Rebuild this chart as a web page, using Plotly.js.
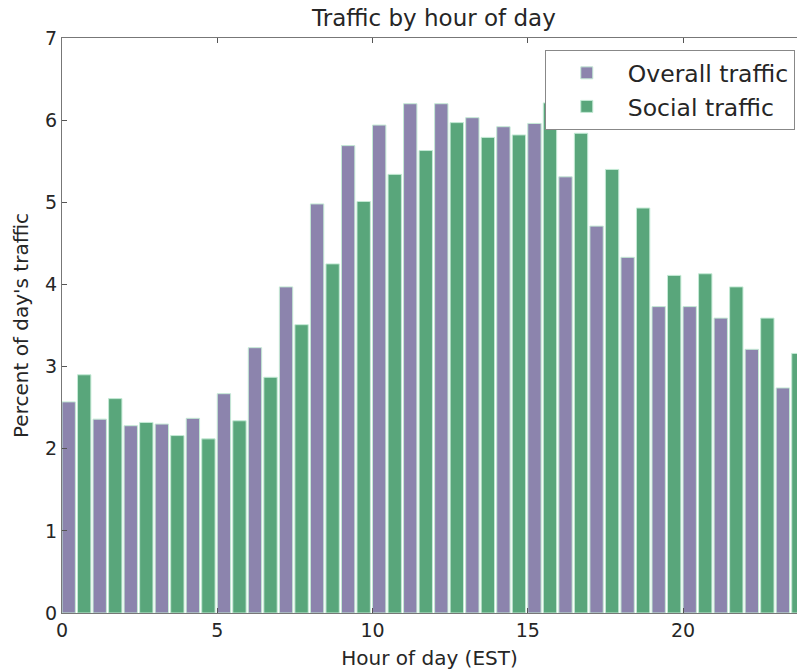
<!DOCTYPE html>
<html>
<head>
<meta charset="utf-8">
<script src="https://cdn.plot.ly/plotly-3.0.1.min.js"></script>
<style>html,body{margin:0;padding:0;background:#fff;overflow:hidden;}</style>
</head>
<body>
<div id="chart" style="width:797px;height:672px;"></div>
<script>
const hours = [0,1,2,3,4,5,6,7,8,9,10,11,12,13,14,15,16,17,18,19,20,21,22,23];
const overallTraffic = [2.57,2.36,2.28,2.30,2.37,2.67,3.23,3.97,4.98,5.69,5.94,6.20,6.20,6.03,5.92,5.96,5.31,4.71,4.33,3.73,3.73,3.59,3.21,2.74];
const socialTraffic = [2.90,2.61,2.32,2.16,2.12,2.34,2.87,3.51,4.25,5.01,5.34,5.63,5.97,5.79,5.82,6.21,5.84,5.40,4.93,4.11,4.13,3.97,3.59,3.16];
const xTicks = [0,5,10,15,20];
const yTicks = [0,1,2,3,4,5,6,7];

const font = "DejaVu Sans, sans-serif";
const edge = {color: '#c4ead5', width: 1};

const traces = [
  {type:'bar', name:'Overall traffic', x:hours, y:overallTraffic, width:0.43, offset:0,
   marker:{color:'#8c84ad', line:edge}},
  {type:'bar', name:'Social traffic', x:hours, y:socialTraffic, width:0.43, offset:0.5,
   marker:{color:'#59a67b', line:edge}}
];

const layout = {
  width:797, height:672,
  margin:{l:62, r:0, t:38, b:59},
  paper_bgcolor:'#fff', plot_bgcolor:'#fff',
  barmode:'overlay',
  font:{family:font, color:'#262626'},
  title:{text:'Traffic by hour of day', font:{size:23, family:font, color:'#262626'},
         x:0.506, xref:'paper', xanchor:'center', y:0.974, yref:'container', yanchor:'middle'},
  xaxis:{range:[0,23.67], tickvals:xTicks, ticktext:xTicks.map(String),
         ticks:'inside', ticklen:5, tickcolor:'#555', tickfont:{size:19, family:font, color:'#262626'},
         showline:true, linecolor:'#777', linewidth:1, mirror:'ticks',
         showgrid:false, zeroline:false,
         title:{text:'Hour of day (EST)', font:{size:20, family:font, color:'#262626'}, standoff:11}},
  yaxis:{range:[0,7], tickvals:yTicks, ticktext:yTicks.map(String),
         ticks:'inside', ticklen:5, tickcolor:'#555', tickfont:{size:19, family:font, color:'#262626'},
         showline:true, linecolor:'#777', linewidth:1,
         showgrid:false, zeroline:false,
         title:{text:"Percent of day's traffic", font:{size:20, family:font, color:'#262626'}, standoff:11}},
  legend:{x:0.997, xanchor:'right', y:0.979, yanchor:'top', bgcolor:'#fff',
          bordercolor:'#888', borderwidth:1, font:{size:23.5, family:font, color:'#262626'},
          itemwidth:72, tracegroupgap:0},
  showlegend:true
};

Plotly.newPlot('chart', traces, layout, {displayModeBar:false, staticPlot:true});
</script>
</body>
</html>
